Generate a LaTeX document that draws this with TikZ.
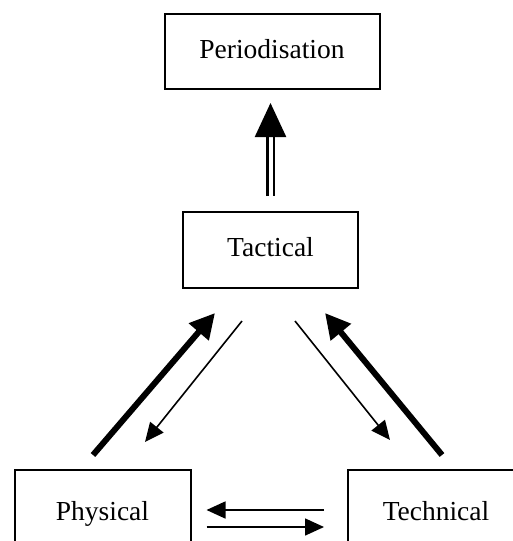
\documentclass[tikz,border=0pt]{standalone}
\usepackage{fontspec}
\setmainfont{Liberation Serif}
\usetikzlibrary{arrows.meta}

\begin{document}
\begin{tikzpicture}[x = 1pt, y = -1pt,
    box/.style = {draw, line width = 2pt, minimum width = 176pt, minimum height = 88pt,
                  text height = 19pt, text depth = 6pt,
                  font = \fontsize{27.5}{33}\selectfont},
    thickarrow/.style = {line width = 6pt, -{Triangle[length = 25pt, width = 25pt]}},
    thinarrow/.style = {line width = 1.6pt, -{Triangle[length = 19pt, width = 17pt]}}]

    \clip (0, 0) rectangle (513, 541);

    \node (per) [box, minimum width = 215pt, minimum height = 75pt] at (272, 51.5) {Periodisation};
    \node (tact) [box, minimum width = 175pt, minimum height = 76pt] at (270.5, 250) {Tactical};
    \node (phys) [box] at (102.5, 514) {Physical};
    \node (tech) [box] at (436, 514) {Technical};

    % free ends of the diagonal arrows
    \coordinate (physout) at (93, 455);
    \coordinate (tactin) at (215, 313);
    \coordinate (tactout) at (242, 321);
    \coordinate (physin) at (145, 442);
    \coordinate (techout) at (442, 455);
    \coordinate (tactin2) at (325, 313);
    \coordinate (tactout2) at (295, 321);
    \coordinate (techin) at (390, 440);

    \draw [line width = 2.4pt, double distance = 4pt, shorten < = 15pt, shorten > = 13pt,
           -{Triangle[length = 34pt, width = 31pt]}] (tact.north) -- (tact.north |- per.south);

    \draw [thickarrow] (physout) -- (tactin);
    \draw [thinarrow] (tactout) -- (physin);
    \draw [thickarrow] (techout) -- (tactin2);
    \draw [thinarrow] (tactout2) -- (techin);

    \draw [thinarrow, shorten < = 23pt, shorten > = 15pt] ([yshift = 4pt]tech.west) -- ([yshift = 4pt]phys.east);
    \draw [thinarrow, shorten < = 15pt, shorten > = 23pt] ([yshift = -13pt]phys.east) -- ([yshift = -13pt]tech.west);
\end{tikzpicture}
\end{document}
